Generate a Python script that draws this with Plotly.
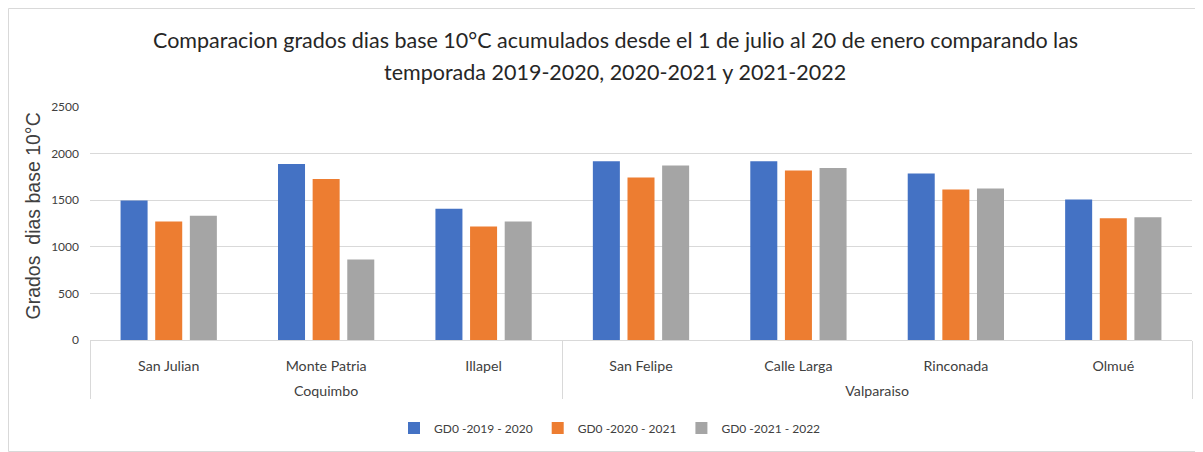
import plotly.graph_objects as go

regions = ["Coquimbo", "Coquimbo", "Coquimbo", "Valparaiso", "Valparaiso", "Valparaiso", "Valparaiso"]
stations = ["San Julian", "Monte Patria", "Illapel", "San Felipe", "Calle Larga", "Rinconada", "Olmué"]
gd_2019_2020 = [1496, 1889, 1407, 1918, 1918, 1786, 1507]
gd_2020_2021 = [1272, 1728, 1218, 1743, 1818, 1614, 1307]
gd_2021_2022 = [1332, 864, 1271, 1871, 1846, 1625, 1318]
series_names = ["GD0 -2019 - 2020", "GD0 -2020 - 2021", "GD0 -2021 - 2022"]
colors = ["#4472C4", "#ED7D31", "#A5A5A5"]
title_lines = ["Comparacion grados dias base 10°C acumulados desde el 1 de julio al 20 de enero comparando las",
               "temporada 2019-2020, 2020-2021 y 2021-2022"]
y_title = "Grados  dias base 10°C"

# page body has an 8px margin, so the figure is drawn 8px right/down
W, H = 1195, 444
ML, MR, MT, MB = 82, 11, 99, 112
pw = W - ML - MR
ph = H - MT - MB


def px_x(x):
    return (x - ML) / pw


def px_y(y):
    return (H - MB - y) / ph


group_labels = ["<br>" + r for r in regions]

fig = go.Figure()
for name, vals, c in zip(series_names, [gd_2019_2020, gd_2020_2021, gd_2021_2022], colors):
    fig.add_trace(go.Bar(
        x=[group_labels, stations], y=vals, name=name,
        marker=dict(color=c, line=dict(width=0)),
        hoverinfo="y",
    ))

fig.update_layout(
    width=W, height=H,
    margin=dict(l=ML, r=MR, t=MT, b=MB, autoexpand=False),
    paper_bgcolor="white", plot_bgcolor="white",
    barmode="group", bargap=0.34, bargroupgap=0.22,
    font=dict(family="Lato, Open Sans, sans-serif", color="#404040", size=12),
    showlegend=True,
    legend=dict(orientation="h", xref="container", x=602 / W, xanchor="center",
                yref="container", y=1 - 420 / H, yanchor="middle",
                font=dict(size=12, color="#404040"), itemwidth=30,
                traceorder="normal"),
    xaxis=dict(type="multicategory", showline=True, linecolor="#D9D9D9", linewidth=1,
               showdividers=True, dividercolor="#D9D9D9", dividerwidth=1,
               tickfont=dict(size=14.2, color="#404040"), ticks="",
               ticklabelstandoff=13, fixedrange=True),
    yaxis=dict(range=[0, 2500], dtick=500, showgrid=True, gridcolor="#D9D9D9",
               gridwidth=1, zeroline=False, showline=False,
               tickfont=dict(size=12, color="#404040"), ticks="",
               ticklabelstandoff=10, fixedrange=True),
    annotations=[
        dict(text=title_lines[0], xref="paper", yref="paper", x=px_x(607), y=px_y(32),
             xanchor="center", yanchor="middle", showarrow=False,
             font=dict(size=21.5, color="#262626")),
        dict(text=title_lines[1], xref="paper", yref="paper", x=px_x(607), y=px_y(64),
             xanchor="center", yanchor="middle", showarrow=False,
             font=dict(size=21.5, color="#262626")),
        dict(text=y_title, xref="paper", yref="paper", x=px_x(24), y=px_y(208.5),
             xanchor="center", yanchor="middle", textangle=-90, showarrow=False,
             font=dict(family="Liberation Sans, Arial, sans-serif", size=19.5, color="#404040")),
    ],
    shapes=[dict(type="rect", xref="paper", yref="paper",
                 x0=px_x(0.5), x1=px_x(1194.5), y0=px_y(443.5), y1=px_y(0.5),
                 line=dict(color="#D9D9D9", width=1), layer="below")],
)

fig.write_html("out.html")
